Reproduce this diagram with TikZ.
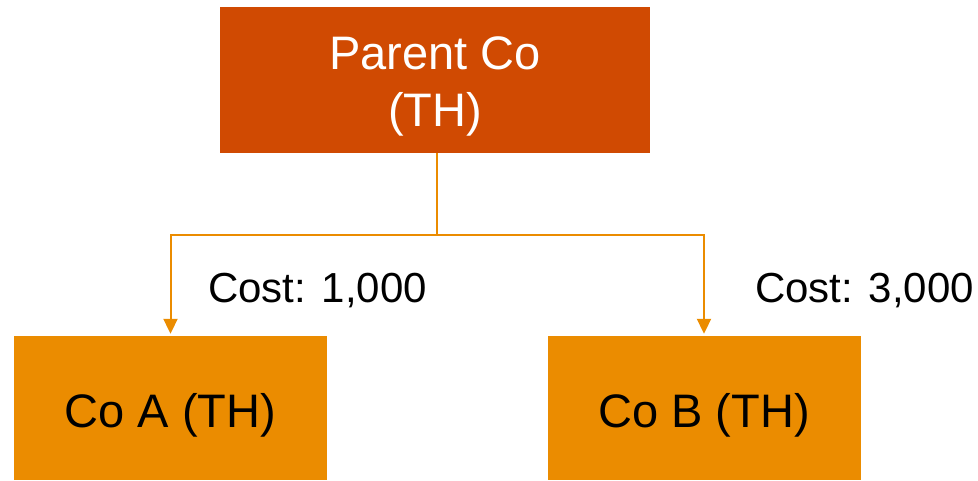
\documentclass[tikz,border=0pt]{standalone}
\usepackage{fontspec}
\setmainfont{Liberation Sans}
\usetikzlibrary{arrows.meta}
\definecolor{pwcred}{HTML}{D04A02}
\definecolor{pwcorange}{HTML}{EB8C00}
\tikzset{
  parentbox/.style={rectangle, fill=pwcred, draw=none, minimum width=430pt, minimum height=146pt, inner sep=0pt},
  childbox/.style={rectangle, fill=pwcorange, draw=none, minimum width=313pt, minimum height=144pt, inner sep=0pt},
  bigtext/.style={inner sep=0pt, font=\fontsize{47}{57}\selectfont, align=center},
  costtext/.style={inner sep=0pt, font=\fontsize{42}{50}\selectfont, anchor=base west},
  conn/.style={draw=pwcorange, line width=2pt, -{Triangle[width=14pt,length=15pt]}, shorten >=2pt}
}
\begin{document}
\begin{tikzpicture}[x=1pt,y=1pt]
\useasboundingbox (0,0) rectangle (978,480);
\node[parentbox] (parent) at (435,400) {};
\node[bigtext, text=white, anchor=north] (ptxt) at (435,444) {Parent Co\\(TH)};
\node[childbox] (coA) at (170.5,72) {};
\node[childbox] (coB) at (704,72) {};
\node[bigtext, anchor=base] (atxt) at (170.5,53) {Co A (TH)};
\node[bigtext, anchor=base] (btxt) at (704,53) {Co B (TH)};
\coordinate (split) at (437,245);
\draw[draw=pwcorange, line width=2pt] (parent.south -| split) -- (split);
\draw[conn] (split) -| (coA.north);
\draw[conn] (split) -| (coB.north);
\node[costtext] (costA) at (208,177) {Cost: 1,000};
\node[costtext] (costB) at (755,178) {Cost: 3,000};
\end{tikzpicture}
\end{document}
